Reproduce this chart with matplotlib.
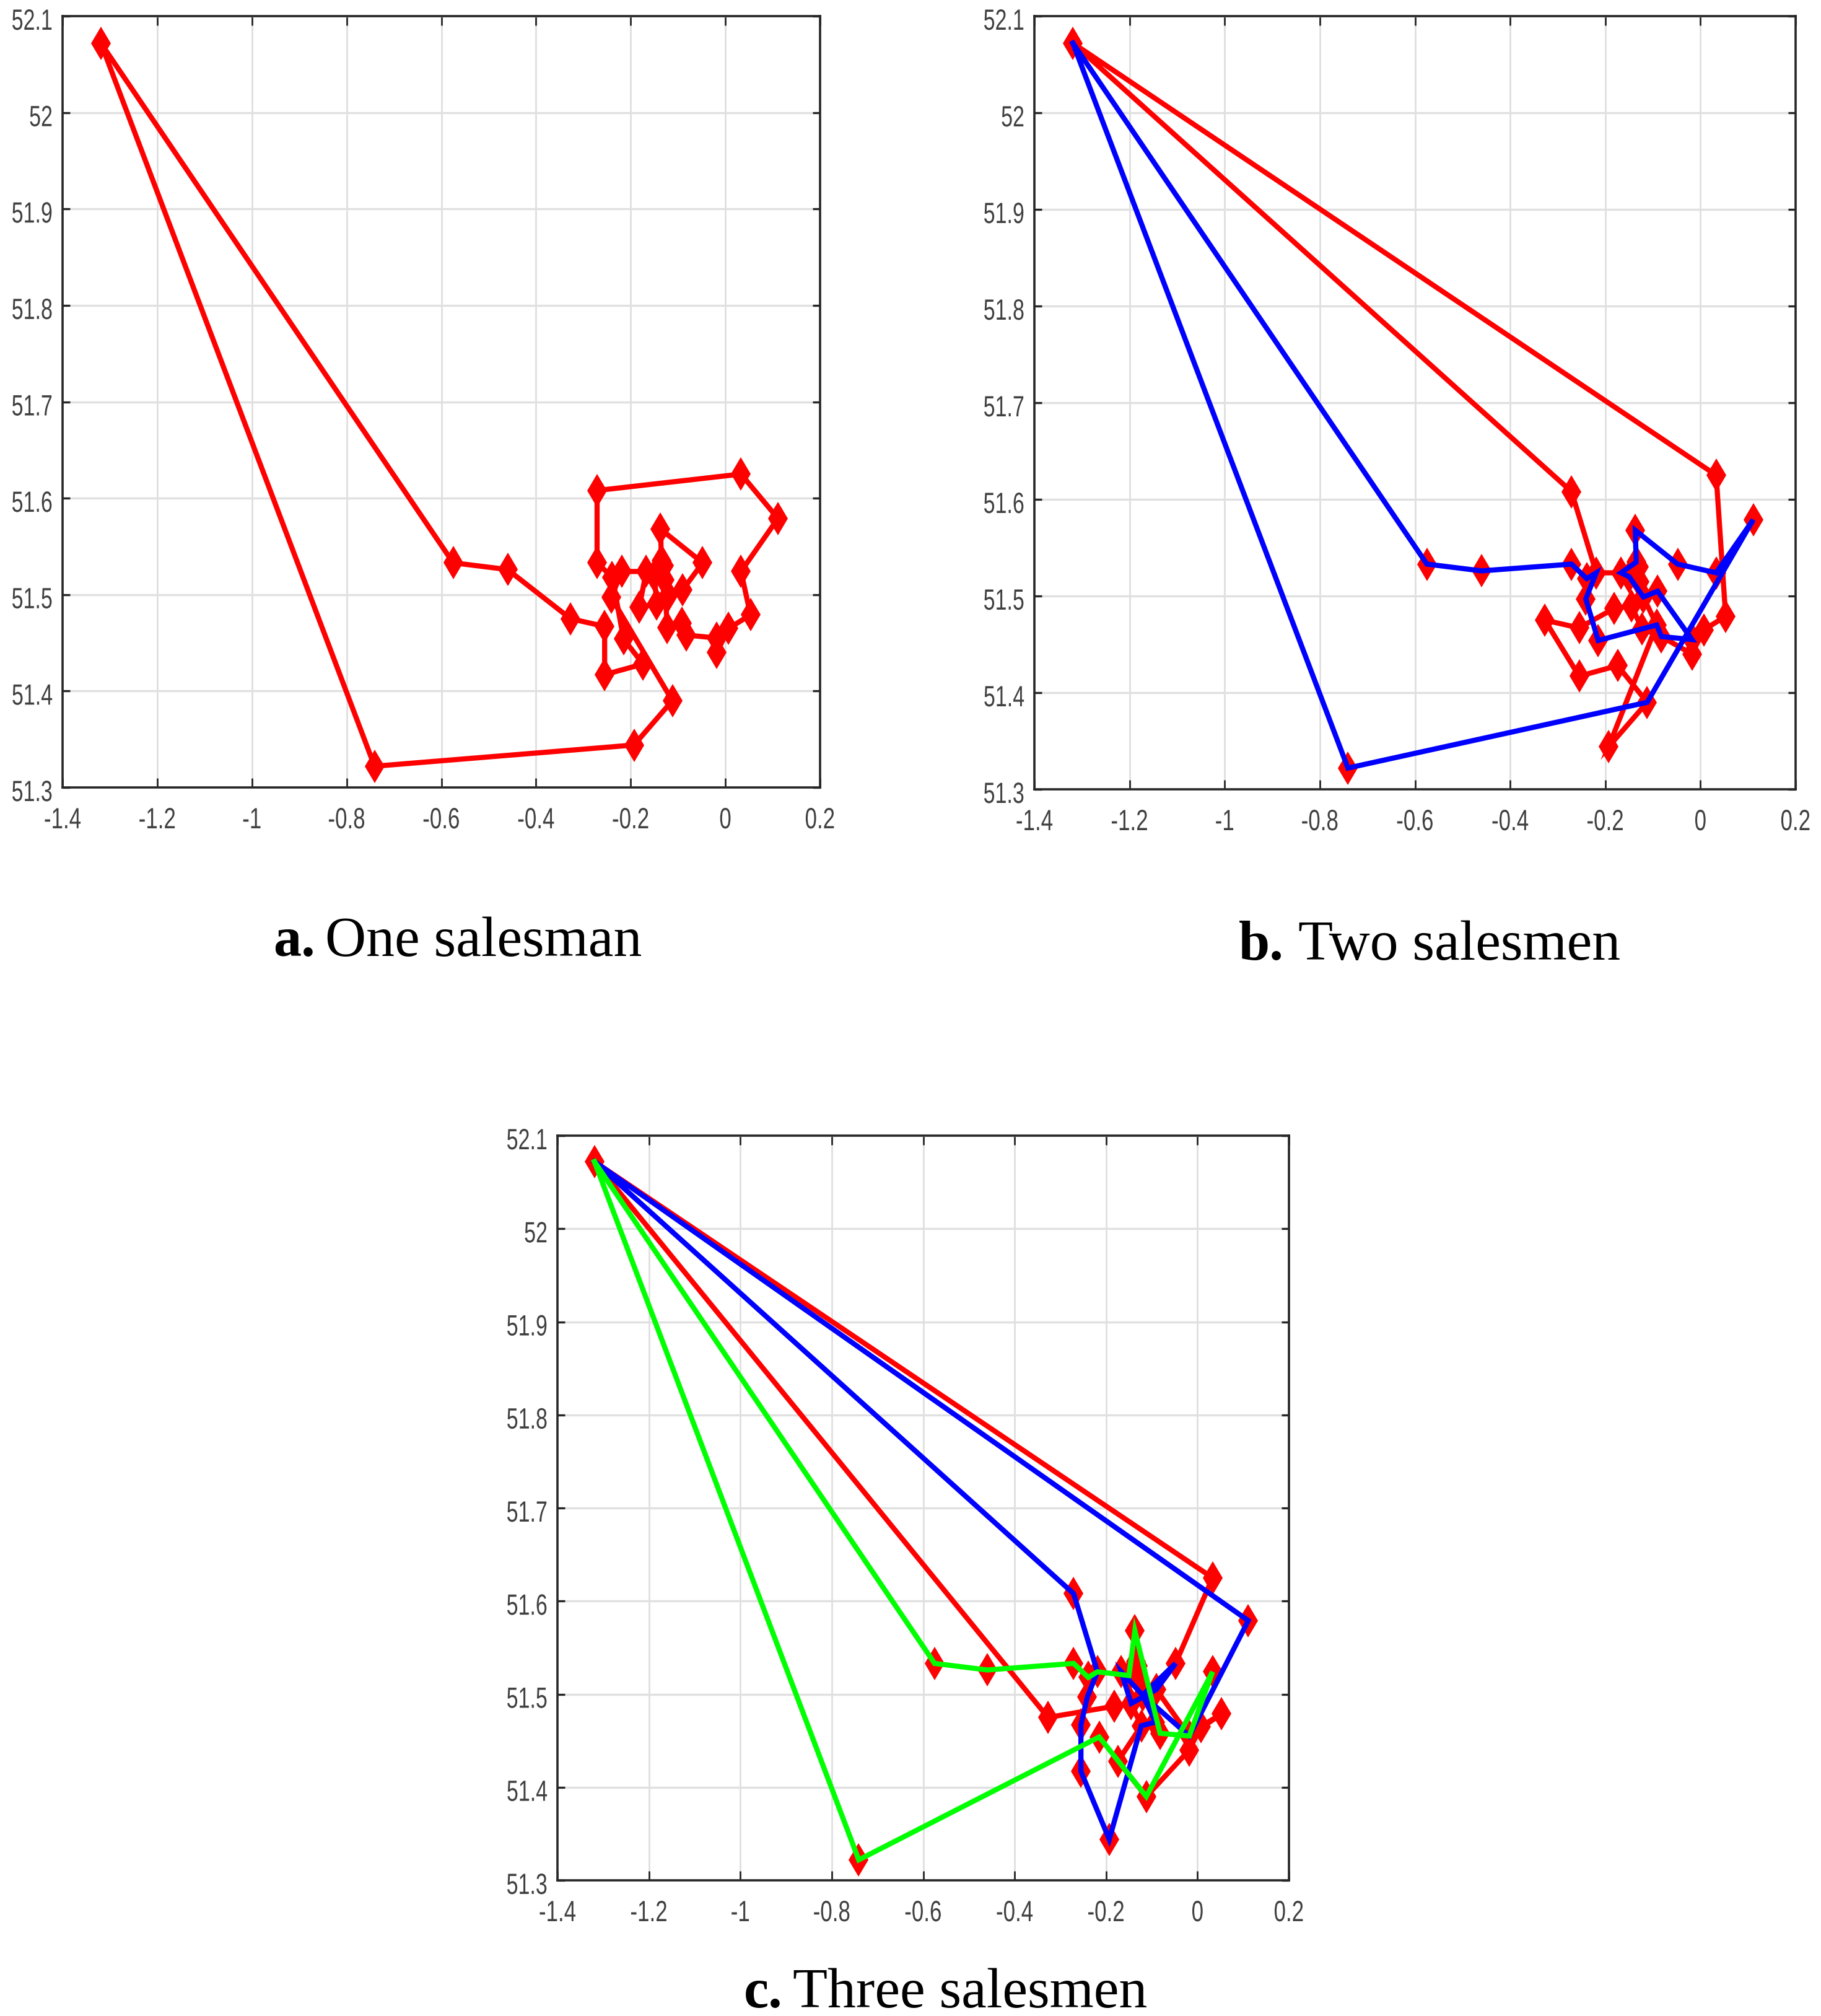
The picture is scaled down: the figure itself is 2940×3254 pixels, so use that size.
import matplotlib
matplotlib.use('Agg')
from matplotlib import pyplot as plt
from matplotlib.patheffects import AbstractPathEffect
from matplotlib.transforms import Affine2D
import numpy as np

# city positions
NODE_X = np.array([-1.319, -0.741, -0.193, -0.112, -0.174, -0.255, -0.255, -0.215, -0.327, -0.46,
                   -0.575, -0.241, -0.239, -0.219, -0.271, -0.271, 0.033, 0.111, 0.033, 0.053,
                   0.007, -0.018, -0.018, -0.082, -0.123, -0.09, -0.048, -0.137, -0.13, -0.167,
                   -0.182, -0.145, -0.12, -0.128, -0.15, -0.135, -0.092])
NODE_Y = np.array([52.072, 51.322, 51.344, 51.39, 51.428, 51.417, 51.467, 51.454, 51.475, 51.526,
                   51.533, 51.497, 51.518, 51.524, 51.533, 51.608, 51.625, 51.579, 51.524, 51.479,
                   51.465, 51.44, 51.455, 51.458, 51.466, 51.505, 51.533, 51.568, 51.53, 51.524,
                   51.487, 51.49, 51.499, 51.515, 51.52, 51.535, 51.47])

# tours, as node numbers
ROUTE_A = [0, 1, 2, 3, 11, 13, 29, 30, 31, 34, 35, 27, 26, 25, 32, 33, 24, 36, 23, 22, 21, 20, 19,
           18, 17, 16, 15, 14, 12, 7, 4, 5, 6, 8, 9, 10, 0]
ROUTE_B_RED = [0, 16, 19, 20, 21, 23, 24, 31, 30, 6, 8, 5, 4, 3, 2, 36, 32, 35, 29, 13, 15, 0]
ROUTE_B_BLUE = [0, 1, 3, 17, 18, 26, 27, 35, 29, 34, 32, 25, 22, 23, 36, 7, 11, 13, 12, 14, 9, 10, 0]
ROUTE_C_RED = [0, 16, 26, 25, 22, 19, 20, 21, 3, 4, 24, 31, 30, 8, 0]
ROUTE_C_BLUE = [0, 15, 13, 11, 6, 5, 2, 24, 36, 32, 26, 25, 31, 29, 32, 22, 17, 0]
ROUTE_C_GREEN = [0, 10, 9, 14, 12, 13, 34, 27, 23, 22, 18, 3, 7, 1, 0]

X_TICKS = [-1.4, -1.2, -1, -0.8, -0.6, -0.4, -0.2, 0, 0.2]
X_LABELS = ['-1.4', '-1.2', '-1', '-0.8', '-0.6', '-0.4', '-0.2', '0', '0.2']
Y_TICKS = [51.3, 51.4, 51.5, 51.6, 51.7, 51.8, 51.9, 52, 52.1]
Y_LABELS = ['51.3', '51.4', '51.5', '51.6', '51.7', '51.8', '51.9', '52', '52.1']

W, H = 2940, 3255
TICK_FONT = ['Liberation Sans']
CAPTION_FONT = ['Liberation Serif']

fig = plt.figure(figsize=(W / 100, H / 100), dpi=100, facecolor='white')


class Squeeze(AbstractPathEffect):
    # the tick labels in the picture are squashed sideways, no narrow font here
    def __init__(self, scale, keep_right=False, dy=0):
        super().__init__()
        self.scale = scale
        self.keep_right = keep_right
        self.dy = dy

    def draw_path(self, renderer, gc, tpath, affine, rgbFace=None):
        box = tpath.get_extents(affine)
        x0 = box.x1 if self.keep_right else (box.x0 + box.x1) / 2
        squash = Affine2D().translate(-x0, 0).scale(self.scale, 1).translate(x0, self.dy)
        renderer.draw_path(gc, tpath, affine + squash, rgbFace)


def draw_panel(left, right, top, bottom, routes):
    ax = fig.add_axes([left / W, 1 - bottom / H, (right - left) / W, (bottom - top) / H])
    ax.set_xlim(-1.4, 0.2)
    ax.set_ylim(51.3, 52.1)
    ax.set_xticks(X_TICKS)
    ax.set_xticklabels(X_LABELS, family=TICK_FONT, fontsize=34, color='#404040')
    ax.set_yticks(Y_TICKS)
    ax.set_yticklabels(Y_LABELS, family=TICK_FONT, fontsize=34, color='#404040')
    for label in ax.get_xticklabels():
        label.set_path_effects([Squeeze(0.74)])
    for label in ax.get_yticklabels():
        label.set_path_effects([Squeeze(0.72, keep_right=True, dy=-5)])
    ax.tick_params(axis='x', direction='in', top=True, length=10.8, width=2, color='#262626', pad=23)
    ax.tick_params(axis='y', direction='in', right=True, length=8.6, width=2.4, color='#262626', pad=11)
    ax.grid(True, axis='x', color='#dcdcdc', linewidth=1.8)
    ax.grid(True, axis='y', color='#e0e0e0', linewidth=2.4)
    ax.set_axisbelow(True)
    for spine in ax.spines.values():
        spine.set_linewidth(2.6)
        spine.set_color('#262626')
    ax.plot(NODE_X, NODE_Y, linestyle='none', marker='d', markersize=27, color='#ff0000',
            markeredgewidth=0, clip_on=False)
    for route, colour in routes:
        ax.plot(NODE_X[route], NODE_Y[route], color=colour, linewidth=6, solid_joinstyle='miter')
    return ax


def caption(x_bold, x_rest, baseline, bold, rest):
    fig.text(x_bold / W, 1 - baseline / H, bold, family=CAPTION_FONT, fontweight='bold',
             fontsize=65, va='baseline')
    fig.text(x_rest / W, 1 - baseline / H, rest, family=CAPTION_FONT, fontsize=66, va='baseline')


draw_panel(101, 1324, 27, 1272, [(ROUTE_A, '#ff0000')])
draw_panel(1670, 2899, 27, 1275, [(ROUTE_B_RED, '#ff0000'), (ROUTE_B_BLUE, '#0000ff')])
draw_panel(900, 2081, 1834, 3036, [(ROUTE_C_RED, '#ff0000'), (ROUTE_C_BLUE, '#0000ff'),
                                   (ROUTE_C_GREEN, '#00ff00')])

caption(441, 525, 1543, 'a.', 'One salesman')
caption(2000, 2096, 1549, 'b.', 'Two salesmen')
caption(1201, 1280, 3240, 'c.', 'Three salesmen')

fig.savefig('out.png', dpi=100, facecolor='white')
